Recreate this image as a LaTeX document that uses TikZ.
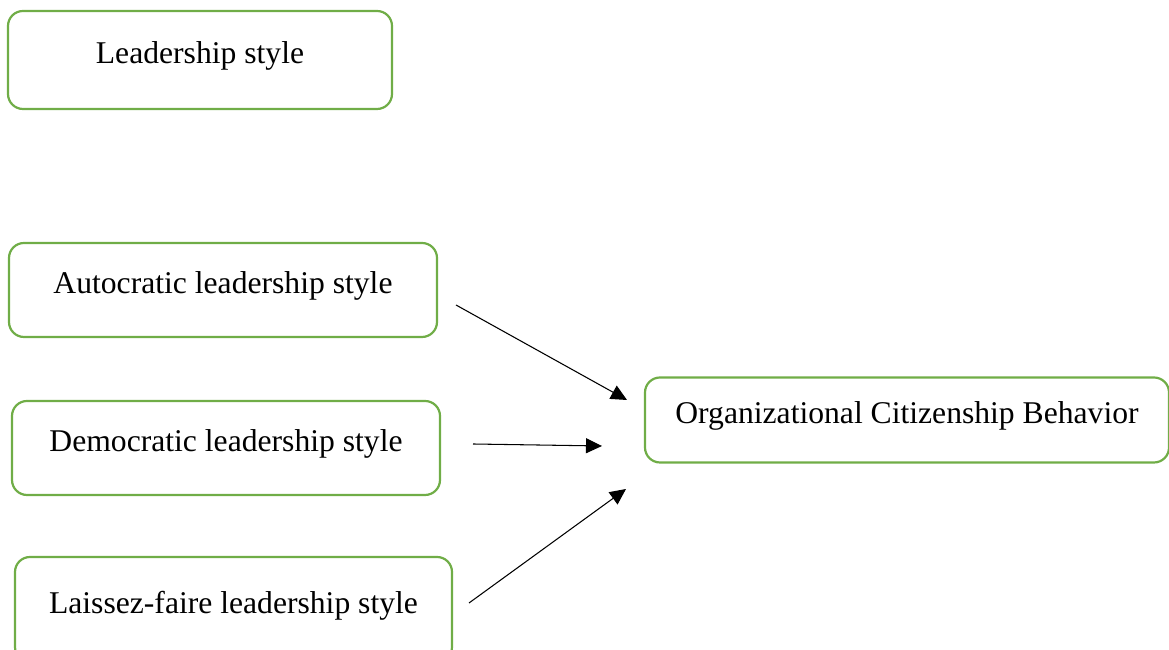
\documentclass[tikz,border=0pt]{standalone}
\usepackage{fontspec}
\setmainfont{Liberation Serif}
\usepackage{tikz}
\usetikzlibrary{arrows.meta, positioning, calc}
\definecolor{boxgreen}{RGB}{112,173,71}

\begin{document}
\begin{tikzpicture}[x=1cm,y=1cm, font=\fontsize{18}{22}\selectfont,
  stylebox/.style={draw=boxgreen, line width=1.25pt, rounded corners=0.3cm, rectangle,
    text height=0.5cm, text depth=0.35cm, inner sep=0pt},
  link/.style={draw=black, line width=0.6pt, -{Triangle[length=0.32cm, width=0.3cm]}},
]
\useasboundingbox (0,0) rectangle (23.38,13);
% ---------- boxes ----------
\node[stylebox, minimum width=7.68cm, minimum height=1.96cm] (lead)    at (4.0,11.8)   {Leadership style};
\node[stylebox, minimum width=8.56cm, minimum height=1.88cm] (auto)    at (4.46,7.2)   {Autocratic leadership style};
\node[stylebox, minimum width=8.56cm, minimum height=1.88cm] (demo)    at (4.52,4.04)  {Democratic leadership style};
\node[stylebox, minimum width=8.74cm, minimum height=2.1cm]  (laissez) at (4.67,0.81)  {Laissez-faire leadership style};
\node[stylebox, minimum width=10.48cm, minimum height=1.7cm] (ocb)     at (18.14,4.6)  {Organizational Citizenship Behavior};
% ---------- arrow ends ----------
\coordinate (auto-out)    at (9.12,6.9);
\coordinate (demo-out)    at (9.46,4.12);
\coordinate (laissez-out) at (9.38,0.94);
\coordinate (ocb-in1)     at (12.54,5.0);
\coordinate (ocb-in2)     at (12.04,4.08);
\coordinate (ocb-in3)     at (12.52,3.22);
% ---------- links ----------
\draw[link] (auto-out) -- (ocb-in1);
\draw[link] (demo-out) -- (ocb-in2);
\draw[link] (laissez-out) -- (ocb-in3);
\end{tikzpicture}
\end{document}
